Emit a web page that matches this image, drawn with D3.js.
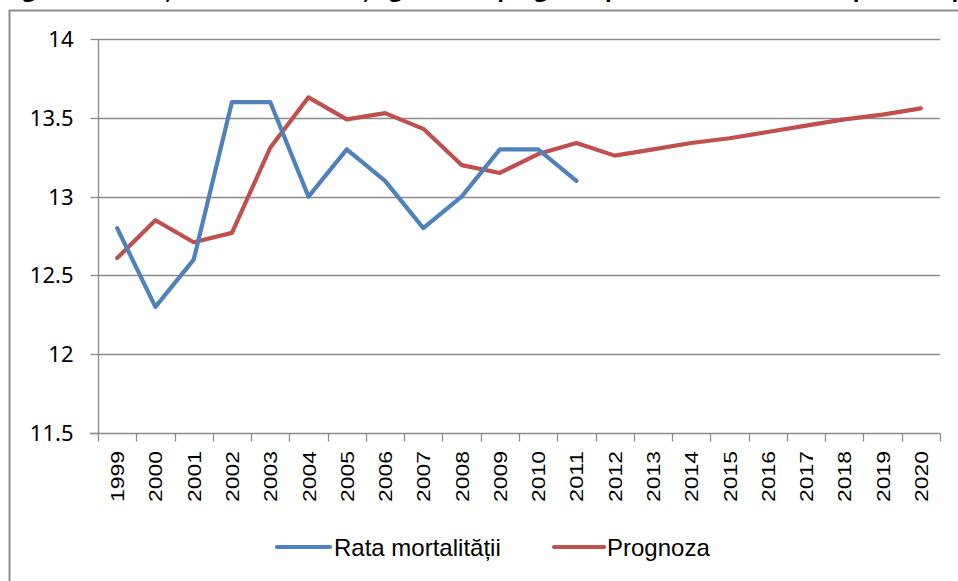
<!DOCTYPE html>
<html>
<head>
<meta charset="utf-8">
<script src="https://cdn.jsdelivr.net/npm/d3@7"></script>
<style>
  html, body { margin: 0; padding: 0; background: #fff; }
  svg { display: block; }
</style>
</head>
<body>
<svg id="chart" width="958" height="581"></svg>
<script>
const titleText = "Figura 1. Evoluția ratei mortalității generale, prognoza pentru anii 2012-2020, per 1000 populație";
const years = ["1999","2000","2001","2002","2003","2004","2005","2006","2007","2008","2009","2010",
               "2011","2012","2013","2014","2015","2016","2017","2018","2019","2020"];
const mortalityYears = years.slice(0, 13);
const mortality = [12.8, 12.3, 12.6, 13.6, 13.6, 13.0, 13.3, 13.1, 12.8, 13.0, 13.3, 13.3, 13.1];
const forecast = [12.61, 12.85, 12.71, 12.77, 13.31, 13.63, 13.49, 13.53, 13.43, 13.20, 13.15, 13.27,
                  13.34, 13.26, 13.30, 13.34, 13.37, 13.41, 13.45, 13.49, 13.52, 13.56];
const yTicks = [11.5, 12, 12.5, 13, 13.5, 14];
const seriesNames = ["Rata mortalității", "Prognoza"];
const seriesColors = ["#4F81BD", "#C0504D"];

(function () {
const svg = d3.select("#chart");

// title, cropped at the top edge as in the reference
svg.append("text")
  .attr("x", 4).attr("y", -3)
  .attr("font-family", "Open Sans, sans-serif")
  .attr("font-weight", "bold")
  .attr("font-size", 22)
  .attr("fill", "#000")
  .text(titleText);

// outer frame
svg.append("rect")
  .attr("x", 9.5).attr("y", 10.5)
  .attr("width", 1000).attr("height", 700)
  .attr("fill", "none").attr("stroke", "#8c8c8c").attr("stroke-width", 2);

const pLeft = 98, pRight = 940, pTop = 39, pBottom = 433;
const x = d3.scaleBand().domain(years).range([pLeft, pRight]);
const y = d3.scaleLinear().domain([11.5, 14]).range([pBottom, pTop]);
const cx = d => x(d) + x.bandwidth() / 2;

// grid
svg.append("g").selectAll("line").data(yTicks.filter(v => v !== 11.5)).join("line")
  .attr("x1", pLeft).attr("x2", pRight)
  .attr("y1", d => Math.round(y(d)) + 0.5).attr("y2", d => Math.round(y(d)) + 0.5)
  .attr("stroke", "#8a8a8a").attr("stroke-width", 1.3);

// y axis
const yAxis = d3.axisLeft(y).tickValues(yTicks).tickSize(8).tickPadding(17)
  .tickFormat(d => String(d));
const gy = svg.append("g").attr("transform", `translate(${pLeft + 0.5},0)`).call(yAxis);
gy.selectAll(".tick").attr("transform", d => `translate(0,${Math.round(y(d)) + 0.5})`);
gy.selectAll("path, line").attr("stroke", "#8a8a8a").attr("stroke-width", 1.3);
gy.select(".domain").attr("d", `M0,${pTop}V${pBottom}`);
gy.selectAll("text")
  .attr("font-family", "Noto Sans, sans-serif")
  .attr("font-size", 22)
  .attr("fill", "#000");

// x axis
const gx = svg.append("g").attr("transform", `translate(0,${pBottom + 0.5})`);
gx.append("line").attr("x1", pLeft - 8).attr("x2", pRight).attr("y1", 0).attr("y2", 0)
  .attr("stroke", "#8a8a8a").attr("stroke-width", 1.3);
const bounds = years.map(d => x(d)).concat([pRight]);
gx.selectAll("line.tick").data(bounds).join("line").attr("class", "tick")
  .attr("x1", d => Math.round(d) + 0.5).attr("x2", d => Math.round(d) + 0.5)
  .attr("y1", 0).attr("y2", 8)
  .attr("stroke", "#8a8a8a").attr("stroke-width", 1.3);
svg.append("g").selectAll("text").data(years).join("text")
  .attr("transform", d => `translate(${cx(d) + 7},502) rotate(-90)`)
  .attr("font-family", "Liberation Sans, Arial, sans-serif")
  .attr("font-size", 18.5)
  .attr("textLength", 51)
  .attr("lengthAdjust", "spacingAndGlyphs")
  .attr("fill", "#000")
  .text(d => d);

// lines
const line = d3.line().x(d => cx(d[0])).y(d => y(d[1]));
svg.append("path")
  .datum(years.map((d, i) => [d, forecast[i]]))
  .attr("d", line).attr("fill", "none")
  .attr("stroke", seriesColors[1]).attr("stroke-width", 4.2)
  .attr("stroke-linejoin", "round").attr("stroke-linecap", "round");
svg.append("path")
  .datum(mortalityYears.map((d, i) => [d, mortality[i]]))
  .attr("d", line).attr("fill", "none")
  .attr("stroke", seriesColors[0]).attr("stroke-width", 4.2)
  .attr("stroke-linejoin", "round").attr("stroke-linecap", "round");

// legend
const legend = svg.append("g");
const legendItems = [
  { name: seriesNames[0], color: seriesColors[0], x1: 277, x2: 330, tx: 334 },
  { name: seriesNames[1], color: seriesColors[1], x1: 554, x2: 604, tx: 607 }
];
legendItems.forEach(it => {
  legend.append("line").attr("x1", it.x1).attr("x2", it.x2).attr("y1", 547).attr("y2", 547)
    .attr("stroke", it.color).attr("stroke-width", 4.2).attr("stroke-linecap", "round");
  legend.append("text").attr("x", it.tx).attr("y", 556)
    .attr("font-family", "Liberation Sans, Arial, sans-serif")
    .attr("font-size", 24).attr("fill", "#000").text(it.name);
});
})();
</script>
</body>
</html>
